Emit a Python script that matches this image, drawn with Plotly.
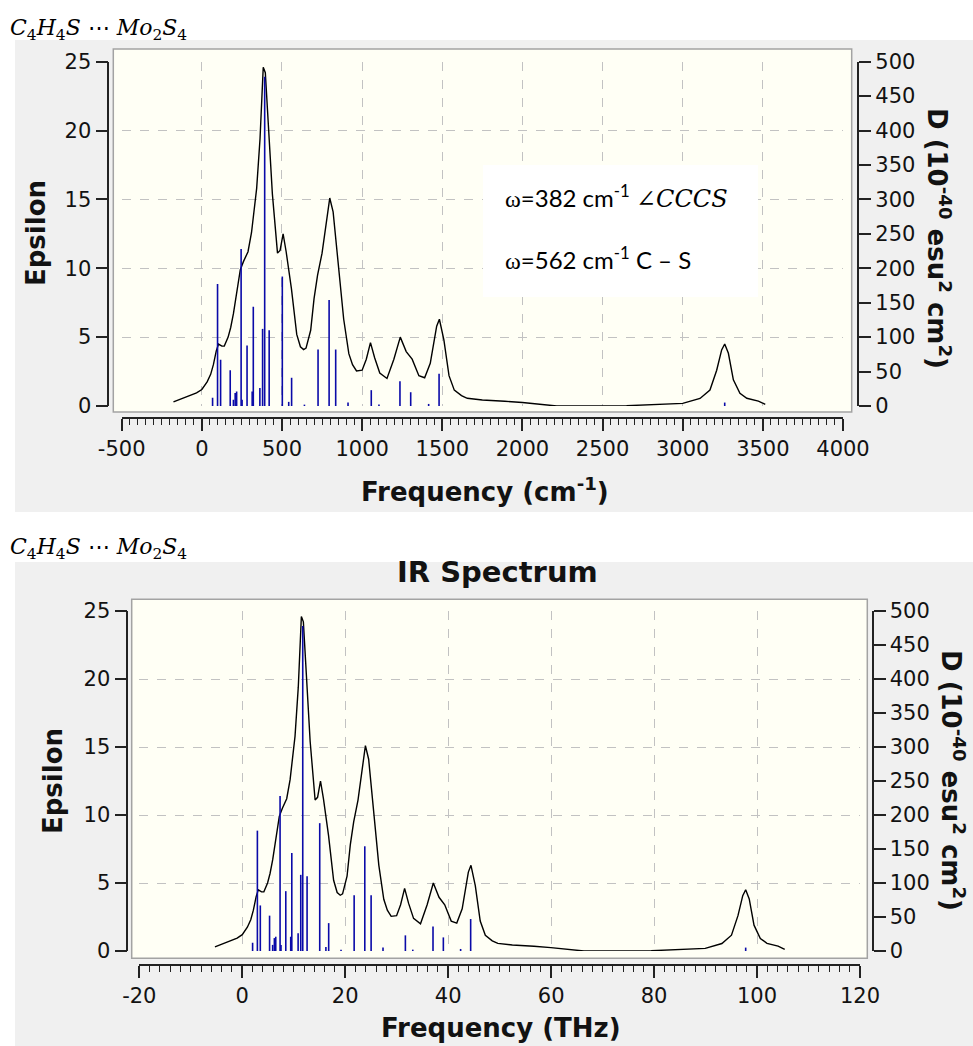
import plotly.graph_objects as go

W, H = 973, 1046

# ---------------- data ----------------
# broadened IR curve, frequency in cm^-1 and epsilon
curve_cm = [-177, -100, -33, 0, 33, 55, 72, 90, 104, 125, 140, 164, 180, 197, 223, 240, 260,
            288, 310, 342, 363, 375, 383, 396, 413, 440, 472, 488, 507, 526, 559, 592, 615,
            635, 650, 679, 700, 722, 750, 776, 798, 819, 852, 885, 917, 940, 965, 1000, 1026,
            1052, 1078, 1110, 1155, 1198, 1238, 1275, 1312, 1354, 1390, 1425, 1465, 1482,
            1510, 1542, 1575, 1620, 1656, 1750, 1890, 2000, 2214, 2650, 3000, 3108, 3170,
            3212, 3243, 3262, 3285, 3316, 3357, 3400, 3472, 3515]
curve_eps = [0.3, 0.65, 0.95, 1.2, 1.75, 2.3, 3.0, 4.0, 4.5, 4.35, 4.35, 5.0, 5.7, 6.7, 8.6, 9.9,
             10.5, 11.2, 12.6, 15.8, 19.4, 22.5, 24.6, 24.2, 20.5, 15.4, 11.1, 11.3, 12.5, 11.2,
             8.5, 5.2, 4.3, 4.1, 4.2, 5.5, 7.8, 9.5, 11.1, 13.2, 15.1, 14.1, 10.2, 6.3, 3.8, 3.0,
             2.55, 2.6, 3.4, 4.6, 3.5, 2.4, 2.0, 3.4, 5.0, 3.95, 3.4, 2.2, 2.05, 3.1, 5.8, 6.3,
             4.8, 2.2, 1.15, 0.75, 0.56, 0.44, 0.35, 0.25, 0.0, 0.02, 0.19, 0.55, 1.16, 2.6,
             4.07, 4.5, 3.83, 1.9, 0.92, 0.56, 0.36, 0.12]

# stick spectrum: frequency (cm^-1) and dipole strength D (10^-40 esu^2 cm^2)
stick_cm = [67, 98, 117, 177, 197, 208, 217, 245, 251, 282, 314, 321, 362, 379, 392, 420, 502,
            542, 560, 640, 725, 794, 835, 912, 1057, 1105, 1236, 1303, 1415, 1480, 3262]
stick_D = [12, 177, 67, 52, 9, 19, 21, 228, 9, 88, 21, 144, 26, 112, 478, 110, 188,
           6, 41, 2, 82, 154, 82, 5, 23, 2, 36, 20, 3, 47, 5]

CM_TO_THZ = 0.0299792458

cm_ticks = [-500, 0, 500, 1000, 1500, 2000, 2500, 3000, 3500, 4000]
cm_ticklabels = ["-500", "0", "500", "1000", "1500", "2000", "2500", "3000", "3500", "4000"]
thz_ticks = [-20, 0, 20, 40, 60, 80, 100, 120]
thz_ticklabels = ["-20", "0", "20", "40", "60", "80", "100", "120"]
eps_ticks = [0, 5, 10, 15, 20, 25]
d_ticks = [0, 50, 100, 150, 200, 250, 300, 350, 400, 450, 500]

# ---------------- helpers ----------------
def fx(px):
    return px / W


def fy(py):
    return 1 - py / H


def sticks(xs, ys):
    sx, sy = [], []
    for a, b in zip(xs, ys):
        sx += [a, a, None]
        sy += [0, b, None]
    return sx, sy


thz_curve = [c * CM_TO_THZ for c in curve_cm]
thz_sticks = [c * CM_TO_THZ for c in stick_cm]

FONT = "DejaVu Sans"
TXT = "#121212"
STICK = "#0a0aa8"

fig = go.Figure()

sx, sy = sticks(stick_cm, stick_D)
fig.add_trace(go.Scatter(x=curve_cm, y=curve_eps, mode="lines", xaxis="x", yaxis="y",
                         line=dict(color="black", width=1.4), hoverinfo="skip", showlegend=False))
fig.add_trace(go.Scatter(x=sx, y=sy, mode="lines", xaxis="x", yaxis="y2",
                         line=dict(color=STICK, width=1.6), hoverinfo="skip", showlegend=False))

sx2, sy2 = sticks(thz_sticks, stick_D)
fig.add_trace(go.Scatter(x=thz_curve, y=curve_eps, mode="lines", xaxis="x2", yaxis="y3",
                         line=dict(color="black", width=1.4), hoverinfo="skip", showlegend=False))
fig.add_trace(go.Scatter(x=sx2, y=sy2, mode="lines", xaxis="x2", yaxis="y4",
                         line=dict(color=STICK, width=1.6), hoverinfo="skip", showlegend=False))

tickfont = dict(family=FONT, size=21, color=TXT)
grid = dict(showgrid=True, gridcolor="#c2c2c2", griddash="dash", gridwidth=1)
axline = dict(showline=True, linecolor="#222222", linewidth=1.6, ticks="outside",
              tickcolor="#222222", tickwidth=1.6, ticklen=12, zeroline=False,
              tickfont=tickfont, fixedrange=True, automargin=False)

layout = dict(
    width=W, height=H, margin=dict(l=0, r=0, t=0, b=0, pad=0, autoexpand=False),
    paper_bgcolor="white", plot_bgcolor="rgba(0,0,0,0)", showlegend=False,
    # ---- top chart ----
    xaxis=dict(domain=[fx(121.7), fx(843)], range=[-500, 4000], anchor="free", position=fy(418),
               tickmode="array", tickvals=cm_ticks, ticktext=cm_ticklabels,
               minor=dict(ticks="outside", ticklen=6, tick0=0, dtick=50, tickcolor="#222222",
                          tickwidth=1.2, showgrid=False),
               **grid, **axline),
    yaxis=dict(domain=[fy(406), fy(61.7)], range=[0, 25], anchor="free", position=fx(108.3),
               tickmode="array", tickvals=eps_ticks, side="left", **grid, **axline),
    yaxis2=dict(overlaying="y", side="right", range=[0, 500], anchor="free", position=fx(858.3),
                tickmode="array", tickvals=d_ticks, showgrid=False, **axline),
    # ---- bottom chart ----
    xaxis2=dict(domain=[fx(139.3), fx(860)], range=[-20, 120], anchor="free", position=fy(965),
                tickmode="array", tickvals=thz_ticks, ticktext=thz_ticklabels,
                minor=dict(ticks="outside", ticklen=6, tick0=0, dtick=2, tickcolor="#222222",
                           tickwidth=1.2, showgrid=False),
                **grid, **axline),
    yaxis3=dict(domain=[fy(951), fy(611)], range=[0, 25], anchor="free", position=fx(127.3),
                tickmode="array", tickvals=eps_ticks, side="left", **grid, **axline),
    yaxis4=dict(overlaying="y3", side="right", range=[0, 500], anchor="free", position=fx(872.7),
                tickmode="array", tickvals=d_ticks, showgrid=False, **axline),
)
fig.update_layout(**layout)

def prect(x0, y0, x1, y1, fill, line=None, layer="below"):
    return dict(type="rect", xref="paper", yref="paper", x0=fx(x0), x1=fx(x1), y0=fy(y1), y1=fy(y0),
                fillcolor=fill, line=line or dict(width=0), layer=layer)

shapes = [
    prect(15, 40, 973, 512, "#f0f0f0"),
    prect(15, 562, 973, 1046, "#f0f0f0"),
    prect(113.3, 49, 851.7, 412, "#fffff5", dict(color="#a3a3a3", width=1.5)),
    prect(131.7, 599.3, 867.3, 958.3, "#fffff5", dict(color="#a3a3a3", width=1.5)),
    prect(483, 165, 758, 297, "white", None, "above"),
]
fig.update_layout(shapes=shapes)

def ann(text, x, y, size, xanchor="center", angle=0, family=FONT, color=TXT):
    return dict(text=text, x=fx(x), y=fy(y), xref="paper", yref="paper", showarrow=False,
                xanchor=xanchor, yanchor="middle", textangle=angle,
                font=dict(family=family, size=size, color=color))

mol = ("<i>C</i><sub>4</sub><i>H</i><sub>4</sub><i>S</i> ⋯ "
       "<i>Mo</i><sub>2</sub><i>S</i><sub>4</sub>")
dtitle = "<b>D (10<sup>-40</sup> esu<sup>2</sup> cm<sup>2</sup>)</b>"
omega = "<span style='font-family:Liberation Serif'>ω</span>"

annotations = [
    ann(mol, 8, 30, 22, "left", family="DejaVu Serif", color="black"),
    ann(mol, 8, 548, 22, "left", family="DejaVu Serif", color="black"),
    ann("<b>Epsilon</b>", 36, 233, 26, angle=-90),
    ann("<b>Epsilon</b>", 53, 781, 26, angle=-90),
    ann(dtitle, 939, 238, 26, angle=90),
    ann(dtitle, 953, 780, 26, angle=90),
    ann("<b>Frequency (cm<sup>-1</sup>)</b>", 485, 490, 26),
    ann("<b>Frequency (THz)</b>", 501, 1028, 26),
    ann("<b>IR Spectrum</b>", 497, 572, 29),
    ann(omega + "=382 cm<sup>-1</sup> <span style='font-family:DejaVu Serif'><i>∠CCCS</i></span>",
        503, 196, 24, "left", family="Lato", color="black"),
    ann(omega + "=562 cm<sup>-1</sup> C – S", 503, 258, 24, "left", family="Lato", color="black"),
]
fig.update_layout(annotations=annotations)

fig.write_html("out.html", config=dict(displayModeBar=False),
               post_script="document.body.style.margin='0';document.body.style.overflow='hidden';")
